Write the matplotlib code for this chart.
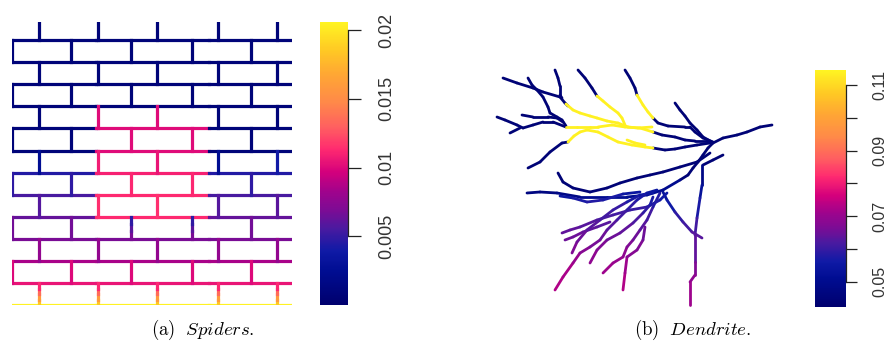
import numpy as np
import matplotlib
matplotlib.use('Agg')
import matplotlib.pyplot as plt
from matplotlib.collections import LineCollection
from matplotlib.colors import LinearSegmentedColormap, Normalize
from matplotlib.cm import ScalarMappable

plt.rcParams['font.family'] = ['Liberation Sans', 'DejaVu Sans']
plt.rcParams['mathtext.fontset'] = 'cm'

# spatstat-like colour ramp: navy -> purple -> magenta -> orange -> yellow
cmap = LinearSegmentedColormap.from_list('spat', [
    (0.00, '#00006E'), (0.12, '#000D92'), (0.19, '#0F1AA6'), (0.27, '#4A1AA0'),
    (0.33, '#7A0C95'), (0.40, '#A0038C'), (0.47, '#D4007C'), (0.55, '#FF2A70'),
    (0.63, '#FF6060'), (0.72, '#FF8A48'), (0.82, '#FFA833'), (0.90, '#FFC824'),
    (1.00, '#FFF422')])

# ---- (a) Spiders: brick mortar network (mm) ----
row_y = [0, 88, 177, 265, 353, 442, 530, 618, 707, 795, 883, 972, 1060]
top_y = 1132
x_even = [0, 236, 476, 718, 956]      # joints in odd rows
x_odd = [108, 344, 580, 822, 1060]    # joints in even rows and top stubs
x_end = 1120
h_breaks = [0, 336, 788, 1120]
NV = 0.0008
h_vals = [
    [0.0205, 0.0205, 0.0205],
    [0.0105, 0.0105, 0.0105],
    [0.0085, 0.0085, 0.0085],
    [0.0068, 0.0068, 0.0068],
    [0.0062, 0.0113, 0.0062],
    [0.0055, 0.0113, 0.0055],
    [0.0045, 0.0110, 0.0045],
    [NV, 0.0101, NV],
    [NV, 0.0101, NV],
    [NV, NV, NV],
    [NV, NV, NV],
    [NV, NV, NV],
    [NV, NV, NV],
]
# per row (bottom to top), per joint: values from bottom to top of the joint
grad = [0.0185, 0.0160, 0.0135, 0.0112]
v_vals = [
    [grad, grad, grad, grad, grad],
    [[0.0100]] * 5,
    [[0.0078]] * 5,
    [[0.0066], [0.0066], [0.0068, 0.0060, 0.0048], [0.0068, 0.0060, 0.0048], [0.0066]],
    [[0.0058], [0.0115], [0.0115], [0.0058], [0.0060]],
    [[0.0048], [0.0048], [0.0112], [0.0112], [0.0048]],
    [[0.0025], [0.0108], [0.0105], [0.0025], [0.0040]],
    [[NV], [NV], [0.0101], [0.0101], [NV]],
    [[NV], [0.0101], [0.0101], [NV], [NV]],
    [[NV]] * 5,
    [[NV]] * 5,
    [[NV]] * 5,
    [[NV]] * 5,
]

# ---- (b) Dendrite: traced branches, values along each branch ----
NB = 0.0445
YL = 0.1140
branches = [
    ([(503, 78), (517, 83), (533, 88), (543, 92), (560, 97), (565, 103), (568, 106)], [NB]),
    ([(528, 78), (532, 85), (537, 90), (543, 97), (548, 107), (550, 113), (557, 117), (562, 120), (566, 126)], [NB]),
    ([(555, 70), (558, 78), (560, 86), (560, 95), (562, 98)], [NB]),
    ([(497, 117), (505, 120), (517, 125), (523, 128), (533, 125), (543, 122), (553, 122), (566, 127)], [NB]),
    ([(522, 115), (533, 117), (548, 117), (557, 118), (563, 122)], [NB]),
    ([(510, 133), (520, 128)], [NB]),
    ([(528, 168), (540, 162), (550, 152), (562, 143), (568, 142)], [NB]),
    ([(578, 70), (585, 78), (592, 88), (597, 96)], [NB]),
    ([(625, 70), (630, 78), (635, 88), (637, 95)], [NB]),
    ([(653, 118), (658, 123), (668, 126), (685, 127), (690, 127), (695, 132), (703, 138), (713, 142)], [NB]),
    ([(653, 132), (662, 135), (675, 137), (685, 140), (695, 141), (710, 141)], [NB]),
    ([(653, 148), (665, 150), (675, 149), (685, 147), (697, 145), (710, 143)], [NB]),
    ([(675, 103), (680, 110), (685, 116), (690, 123), (697, 130), (703, 137), (712, 142)], [NB]),
    ([(772, 125), (760, 127), (747, 132), (737, 135), (723, 138), (713, 143), (708, 148), (703, 155),
      (698, 162), (693, 168), (688, 175), (680, 180)], [NB]),
    ([(558, 173), (563, 182), (573, 188), (590, 192), (607, 188), (620, 183), (637, 178), (650, 175),
      (663, 172), (680, 167), (697, 162), (710, 153)], [NB]),
    ([(527, 193), (540, 192), (557, 193), (580, 197), (607, 197), (627, 197), (647, 195), (663, 190), (680, 180)],
     [0.047, 0.047, 0.048, 0.050, 0.051, 0.051, 0.051, 0.050, 0.048]),
    ([(723, 155), (713, 160), (703, 165)], [NB]),
    ([(702, 165), (702, 185), (700, 198), (697, 218), (695, 235), (695, 262), (695, 275), (690, 282), (690, 305)],
     [0.048, 0.053, 0.057, 0.061, 0.064, 0.067, 0.069, 0.071, 0.073]),
    ([(663, 192), (667, 200), (675, 212), (683, 222), (692, 232), (702, 238)],
     [0.053, 0.056, 0.059, 0.061, 0.063, 0.063]),
    ([(562, 233), (570, 230), (580, 227), (597, 220), (613, 215), (630, 210), (647, 207), (660, 200), (667, 193)],
     [0.064, 0.064, 0.063, 0.062, 0.061, 0.060, 0.058, 0.056, 0.054]),
    ([(565, 240), (573, 237), (583, 232), (597, 227), (610, 222)],
     [0.065, 0.065, 0.064, 0.063, 0.062]),
    ([(572, 253), (577, 242), (587, 230), (600, 220), (613, 210), (627, 202), (640, 195), (653, 193)],
     [0.067, 0.065, 0.063, 0.061, 0.060, 0.057, 0.055, 0.053]),
    ([(555, 290), (563, 277), (573, 263), (580, 253), (590, 247), (600, 240), (607, 230), (617, 220),
      (627, 210), (637, 200), (647, 193), (657, 190)],
     [0.073, 0.072, 0.070, 0.068, 0.066, 0.065, 0.063, 0.061, 0.059, 0.057, 0.055, 0.053]),
    ([(590, 263), (597, 250), (607, 240), (620, 233), (633, 223), (643, 213), (650, 205), (653, 197)],
     [0.069, 0.067, 0.065, 0.064, 0.062, 0.059, 0.057, 0.055]),
    ([(603, 273), (613, 263), (623, 257), (627, 247), (633, 240), (640, 230), (647, 220), (653, 207), (660, 193)],
     [0.071, 0.070, 0.069, 0.067, 0.065, 0.063, 0.061, 0.058, 0.055]),
    ([(623, 290), (625, 273), (627, 257)], [0.073, 0.071, 0.069]),
    ([(627, 257), (637, 250), (643, 240), (645, 227)], [0.068, 0.067, 0.065, 0.063]),
    ([(560, 196), (573, 198), (587, 202), (603, 200), (623, 194), (640, 192)],
     [0.055, 0.057, 0.058, 0.057, 0.055, 0.054]),
    ([(566, 104), (573, 110), (580, 113), (590, 116), (597, 118), (607, 121), (618, 123), (628, 127),
      (638, 128), (652, 127)], [YL]),
    ([(597, 96), (603, 101), (610, 107), (618, 113), (622, 118), (625, 125)], [YL]),
    ([(637, 95), (643, 105), (648, 112), (653, 118)], [YL]),
    ([(566, 127), (577, 127), (590, 127), (598, 127), (612, 125), (625, 127), (640, 128), (653, 132)], [YL]),
    ([(568, 142), (574, 136), (580, 132), (587, 130), (598, 132), (608, 137), (618, 142), (632, 145),
      (645, 147), (653, 148)], [YL]),
    ([(627, 140), (635, 143), (645, 145)], [YL]),
]

W, H = 886, 343
fig = plt.figure(figsize=(W / 100, H / 100), dpi=100)


def box(x0, y0, x1, y1):
    return [x0 / W, 1 - y1 / H, (x1 - x0) / W, (y1 - y0) / H]


# ---- panel (a) ----
norm_a = Normalize(0.0, 0.0206)
segs, vals = [], []
for yy, hv in zip(row_y, h_vals):
    for k in range(3):
        segs.append([(h_breaks[k], yy), (h_breaks[k + 1], yy)])
        vals.append(hv[k])
tops = row_y[1:] + [top_y]
for i, (y0, y1) in enumerate(zip(row_y, tops)):
    xs = x_odd if i % 2 == 0 else x_even
    for xx, vv in zip(xs, v_vals[i]):
        n = len(vv)
        for j, v in enumerate(vv):
            segs.append([(xx, y0 + (y1 - y0) * j / n), (xx, y0 + (y1 - y0) * (j + 1) / n)])
            vals.append(v)

ax1 = fig.add_axes(box(12, 22, 292, 305))
lc = LineCollection(segs, cmap=cmap, norm=norm_a, linewidths=2.3, capstyle='projecting')
lc.set_array(np.array(vals))
ax1.add_collection(lc)
ax1.set_xlim(0, x_end)
ax1.set_ylim(0, top_y)
ax1.axis('off')


def rbar(cax, norm, ticks, labels, fs, tlen, pad):
    cb = fig.colorbar(ScalarMappable(norm=norm, cmap=cmap), cax=cax)
    cb.outline.set_visible(False)
    cb.set_ticks(ticks)
    cb.set_ticklabels(labels)
    cax.tick_params(axis='y', length=tlen, width=0.9, color='#222222', pad=pad,
                    labelsize=fs, labelcolor='#333333', labelrotation=90)
    for t in cax.get_yticklabels():
        t.set_va('center')
    sp = cax.spines['right']
    sp.set_visible(True)
    sp.set_bounds(ticks[0], ticks[-1])
    sp.set_linewidth(0.9)
    sp.set_color('#222222')
    return cb


cax1 = fig.add_axes(box(320, 22, 348, 305))
rbar(cax1, norm_a, [0.005, 0.01, 0.015, 0.02], ['0.005', '0.01', '0.015', '0.02'], 13, 9.5, 12)

# ---- panel (b) ----
norm_b = Normalize(0.0423, 0.1146)
segs, vals = [], []
for pts, vv in branches:
    for j in range(len(pts) - 1):
        segs.append([pts[j], pts[j + 1]])
        vals.append(vv[min(j, len(vv) - 1)])
ax2 = fig.add_axes(box(480, 60, 790, 315))
lc2 = LineCollection(segs, cmap=cmap, norm=norm_b, linewidths=2.0, capstyle='round', joinstyle='round')
lc2.set_array(np.array(vals))
ax2.add_collection(lc2)
ax2.set_xlim(480, 790)
ax2.set_ylim(315, 60)
ax2.axis('off')

cax2 = fig.add_axes(box(815, 70, 846, 307))
rbar(cax2, norm_b, [0.05, 0.06, 0.07, 0.08, 0.09, 0.10, 0.11],
     ['0.05', '', '0.07', '', '0.09', '', '0.11'], 11.5, 8, 11)

fig.text(203 / W, 1 - 330 / H, r'$\mathrm{(a)}\ \ \mathit{Spiders}.$', ha='center', va='center', fontsize=13.5)
fig.text(693 / W, 1 - 330 / H, r'$\mathrm{(b)}\ \ \mathit{Dendrite}.$', ha='center', va='center', fontsize=13.5)

fig.savefig('out.png', dpi=100, facecolor='white')
